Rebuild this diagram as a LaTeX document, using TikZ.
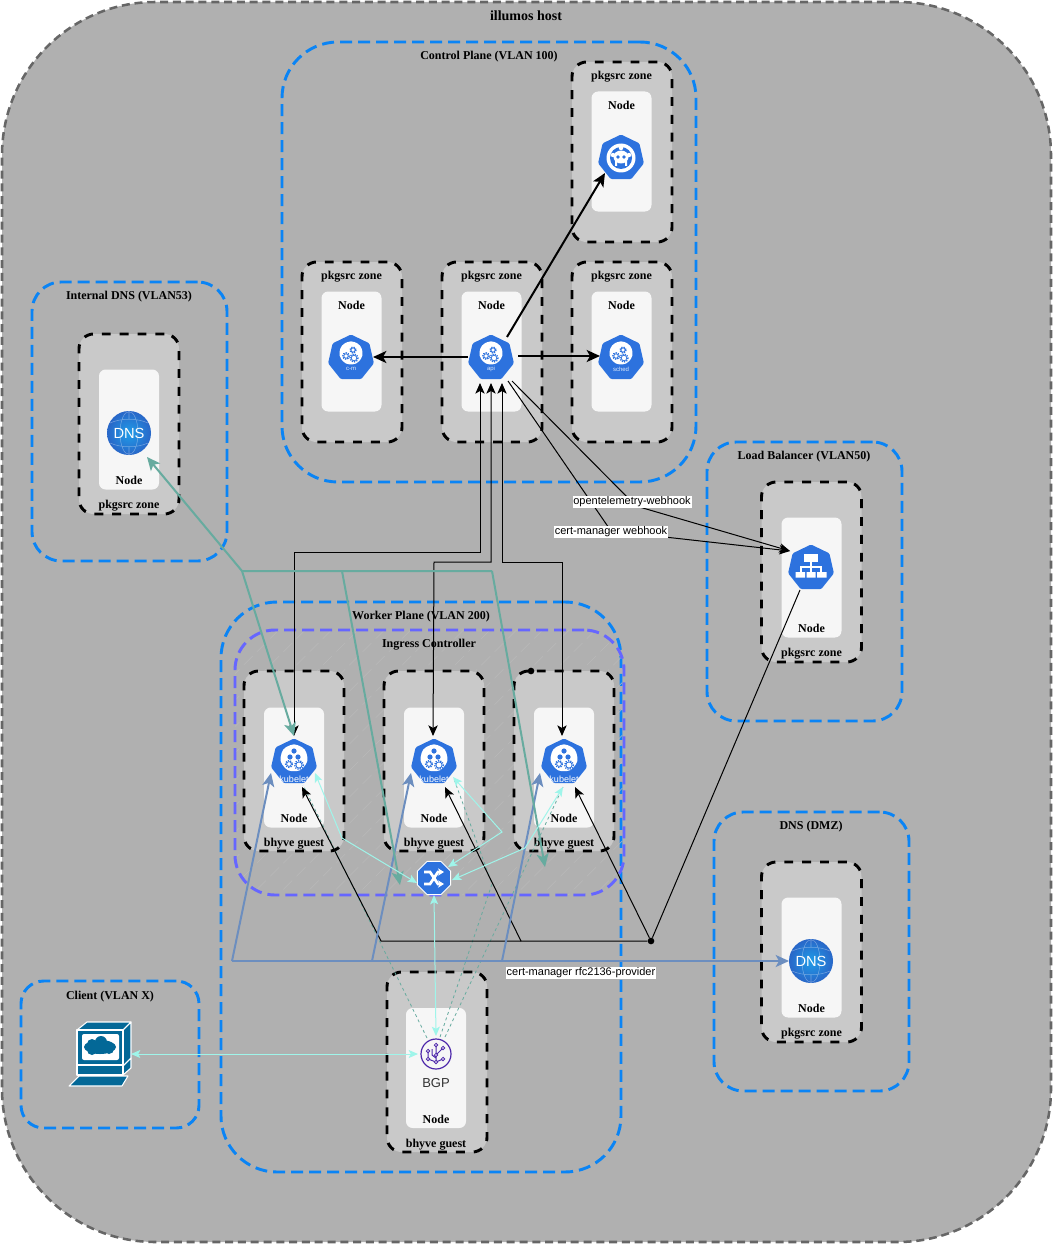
\documentclass[tikz,border=0pt]{standalone}
\usepackage{fontspec}
\setmainfont{Liberation Serif}
\newfontfamily\arialfont{Liberation Sans}
\usetikzlibrary{shapes.geometric,arrows.meta,calc,patterns.meta}

\definecolor{hostgray}{HTML}{B0B0B0}
\definecolor{zonegray}{HTML}{C9C9C9}
\definecolor{boxwhite}{HTML}{F6F6F6}
\definecolor{vlanblue}{HTML}{0A84F5}
\definecolor{ingresspurple}{HTML}{6666FF}
\definecolor{kubeblue}{HTML}{2D72DE}
\definecolor{steel}{HTML}{6C8EBF}
\definecolor{teal}{HTML}{67AB9F}
\definecolor{aqua}{HTML}{9FF5EA}
\definecolor{clientblue}{HTML}{036897}
\definecolor{bgppurple}{HTML}{4D27AA}

\tikzset{barb/.tip={Stealth[length=8pt,width=7pt,inset=2pt]}}
\tikzset{heavybarb/.tip={Stealth[length=10pt,width=9pt,inset=2.5pt]}}
\tikzset{smallbarb/.tip={Stealth[length=7pt,width=6pt,inset=1.6pt]}}

\tikzstyle{host} = [rectangle, draw=black!60, fill=hostgray, line width=1.9pt,
    dash pattern=on 6pt off 3.6pt, rounded corners=115pt, inner sep=0pt]
\tikzstyle{vlan} = [rectangle, draw=vlanblue, line width=2.2pt,
    dash pattern=on 9pt off 4.5pt, inner sep=0pt]
\tikzstyle{ingressbox} = [rectangle, draw=ingresspurple, line width=2.2pt,
    dash pattern=on 9pt off 4.5pt, rounded corners=30pt, inner sep=0pt,
    pattern={Lines[angle=45,distance=14pt,line width=.4pt]}, pattern color=hostgray!88!white]
\tikzstyle{zone} = [rectangle, draw=black, fill=zonegray, line width=2.2pt,
    dash pattern=on 6.7pt off 6.7pt, rounded corners=11pt, inner sep=0pt,
    minimum width=75pt, minimum height=135pt]
\tikzstyle{nodebox} = [rectangle, fill=boxwhite, rounded corners=5pt, inner sep=0pt,
    minimum width=45pt, minimum height=90pt]
\tikzstyle{heading} = [font=\bfseries\fontsize{9}{10}\selectfont, inner sep=0pt]
\tikzstyle{kube} = [regular polygon, regular polygon sides=7, fill=kubeblue,
    minimum size=35.25pt, inner sep=0pt, rounded corners=1pt]
\tikzstyle{dnsball} = [circle, inner color=kubeblue!70!cyan, outer color=kubeblue!90!black,
    minimum size=33pt, inner sep=0pt]
\tikzstyle{tag} = [fill=white, font=\arialfont\fontsize{8.25}{9}\selectfont,
    inner xsep=.6pt, inner ysep=.8pt]
\tikzstyle{dot} = [circle, fill=black, inner sep=0pt, minimum size=5pt]
\tikzstyle{wire} = [draw, black, line width=.75pt, -barb]
\tikzstyle{heavywire} = [draw, black, line width=1.5pt, -heavybarb]
\tikzstyle{steelwire} = [draw, steel, line width=1.5pt, -heavybarb]
\tikzstyle{tealwire} = [draw, teal, line width=1.5pt, -heavybarb]
\tikzstyle{aquawire} = [draw, aqua, line width=.75pt, smallbarb-smallbarb]
\tikzstyle{tealdash} = [draw, teal, line width=.6pt, dash pattern=on 2.2pt off 2.2pt]
\tikzstyle{cogteeth} = [draw=kubeblue, line width=1pt, dash pattern=on .9pt off .9pt]

\newcommand{\drawcog}[3]{%
    \draw[cogteeth] (#1,#2) circle (#3);
    \draw[kubeblue, line width=.6pt, fill=white] (#1,#2) circle (#3*.7);
}

\tikzset{
  controlicon/.pic={
    \node [regular polygon, regular polygon sides=7, fill=white, minimum size=19pt,
        inner sep=0pt, rounded corners=3pt] at (0,-5) {};
    \drawcog{-5}{-2}{3.2}
    \drawcog{2}{-8}{3}
    \drawcog{3}{0}{4}
  },
  kubeleticon/.pic={
    \node [regular polygon, regular polygon sides=7, fill=white, minimum size=22pt,
        inner sep=0pt, rounded corners=3pt] at (0,-4) {};
    \fill[kubeblue] (0,-11) circle (2.6) (-4,-5) circle (2.6) (4,-5) circle (2.6);
    \drawcog{-5}{2}{3.4}
    \drawcog{5}{3}{4.4}
  },
  etcdicon/.pic={
    \fill[white] (0,0) circle (14.5);
    \fill[kubeblue] (0,0) circle (11);
    \fill[white] (-8,-3) circle (2.2) (8,-3) circle (2.2) (0,-10) circle (2.2);
    \fill[white] (0,-1) ellipse (7.5 and 6.5);
    \fill[kubeblue] (-3,-1) circle (1.8) (3,-1) circle (1.8);
    \fill[white] (-6,8) rectangle (-4,3) (4,3) rectangle (6,8);
  },
  treeicon/.pic={
    \draw[white, line width=.8pt] (0,-8) -- (0,6) (-10,6) -- (-10,-1) -- (10,-1) -- (10,6);
    \fill[white] (-7,-14) rectangle (7,-6);
    \fill[white] (-15.5,4) rectangle (-6,9.5) (-4.5,4) rectangle (4.5,9.5) (6,4) rectangle (15.5,9.5);
  },
  shuffleicon/.pic={
    \draw[white, line width=2pt, -{Stealth[length=4.5pt,width=5.5pt]}]
        (-10,-6) -- (-4,-6) -- (4,6) -- (10,6);
    \draw[white, line width=2pt, -{Stealth[length=4.5pt,width=5.5pt]}]
        (-10,6) -- (-4,6) -- (4,-6) -- (10,-6);
  },
  bgpicon/.pic={
    \draw[bgppurple, line width=.9pt] (0,0) circle (15);
    \draw[bgppurple, line width=.75pt] (0,-9) -- (0,8) (-8,-3) -- (-8,5) -- (0,8) -- (7,5)
        (0,1) -- (7,-6) (-4,-5) -- (-4,1) -- (0,4);
    \draw[bgppurple, line width=.6pt, fill=white] (0,-9) circle (1.7) (-8,-3) circle (1.7)
        (7,-6) circle (1.7) (0,8) circle (1.7) (7,5) circle (1.7) (-8,5) circle (1.7) (0,1) circle (1.7);
  },
  globeicon/.pic={
    \draw[white, opacity=.35, line width=.4pt] (0,0) ellipse (9 and 21.5) (0,-21.5) -- (0,-14)
        (0,14) -- (0,21.5) (-19,-10) .. controls (-8,-15) and (8,-15) .. (19,-10)
        (-19,10) .. controls (-8,15) and (8,15) .. (19,10);
  }
}

\begin{document}
\begin{tikzpicture}[x=.75pt, y=-.75pt, node distance=30pt]
        \useasboundingbox (0,0) rectangle (1053,1252);

        % Place containers
        \node [host, minimum width=786.75pt, minimum height=930pt] (illumos) at (526.5,622) {};
        \node [heading, font=\bfseries\fontsize{10.5}{11}\selectfont] (illumostext) at (526,16) {illumos host};

        \node [vlan, rounded corners=42pt, minimum width=310.5pt, minimum height=330pt] (control) at (489,262) {};
        \node [heading] (controltext) at (489,57) {Control Plane (VLAN 100)};
        \node [vlan, rounded corners=22pt, minimum width=146.25pt, minimum height=209.25pt] (internal) at (129.5,421.5) {};
        \node [heading] (internaltext) at (129,297) {Internal DNS (VLAN53)};
        \node [vlan, rounded corners=22pt, minimum width=146.25pt, minimum height=209.25pt] (balancer) at (804.5,581.5) {};
        \node [heading] (balancertext) at (804,457) {Load Balancer (VLAN50)};
        \node [vlan, rounded corners=22pt, minimum width=146.25pt, minimum height=209.25pt] (dmz) at (811.5,951.5) {};
        \node [heading] (dmztext) at (811,827) {DNS (DMZ)};
        \node [vlan, rounded corners=42pt, minimum width=300pt, minimum height=427.5pt] (worker) at (421,887) {};
        \node [heading] (workertext) at (421,617) {Worker Plane (VLAN 200)};
        \node [ingressbox, minimum width=291.75pt, minimum height=198.75pt] (ingressbox) at (429.5,762.5) {};
        \node [heading] (ingresstext) at (429,645) {Ingress Controller};
        \node [vlan, rounded corners=17pt, minimum width=133.5pt, minimum height=110.25pt] (clientzone) at (110,1054.5) {};
        \node [heading] (clienttext) at (110,997) {Client (VLAN X)};

        % Place zones
        \node [zone] (etcdzone) at (622,152) {};
        \node [nodebox] (etcdbox) at (621.5,151.5) {};
        \node [heading, above of=etcdbox, node distance=55.9pt] (etcdtext) {pkgsrc zone};
        \node [heading, above of=etcdbox, node distance=34.6pt] (etcdnode) {Node};

        \node [zone] (cmzone) at (352,352) {};
        \node [nodebox] (cmbox) at (351.5,351.5) {};
        \node [heading, above of=cmbox, node distance=55.9pt] (cmtext) {pkgsrc zone};
        \node [heading, above of=cmbox, node distance=34.6pt] (cmnode) {Node};

        \node [zone] (apizone) at (492,352) {};
        \node [nodebox] (apibox) at (491.5,351.5) {};
        \node [heading, above of=apibox, node distance=55.9pt] (apitext) {pkgsrc zone};
        \node [heading, above of=apibox, node distance=34.6pt] (apinode) {Node};

        \node [zone] (schedzone) at (622,352) {};
        \node [nodebox] (schedbox) at (621.5,351.5) {};
        \node [heading, above of=schedbox, node distance=55.9pt] (schedtext) {pkgsrc zone};
        \node [heading, above of=schedbox, node distance=34.6pt] (schednode) {Node};

        \node [zone] (dnsazone) at (129,424) {};
        \node [nodebox] (dnsabox) at (129,429.5) {};
        \node [heading, below of=dnsabox, node distance=57.4pt] (dnsatext) {pkgsrc zone};
        \node [heading, below of=dnsabox, node distance=38pt] (dnsanode) {Node};

        \node [zone] (lbzone) at (811.5,572) {};
        \node [nodebox] (lbbox) at (811.5,577.5) {};
        \node [heading, below of=lbbox, node distance=57.4pt] (lbtext) {pkgsrc zone};
        \node [heading, below of=lbbox, node distance=38pt] (lbnode) {Node};

        \node [zone] (dnsbzone) at (811.5,952) {};
        \node [nodebox] (dnsbbox) at (811.5,957.5) {};
        \node [heading, below of=dnsbbox, node distance=57.4pt] (dnsbtext) {pkgsrc zone};
        \node [heading, below of=dnsbbox, node distance=38pt] (dnsbnode) {Node};

        \node [zone] (kazone) at (294,761) {};
        \node [nodebox] (kabox) at (294,767.5) {};
        \node [heading, below of=kabox, node distance=57.4pt] (katext) {bhyve guest};
        \node [heading, below of=kabox, node distance=38pt] (kanode) {Node};

        \node [zone] (kbzone) at (434,761) {};
        \node [nodebox] (kbbox) at (434,767.5) {};
        \node [heading, below of=kbbox, node distance=57.4pt] (kbtext) {bhyve guest};
        \node [heading, below of=kbbox, node distance=38pt] (kbnode) {Node};

        \node [zone] (kczone) at (564,761) {};
        \node [nodebox] (kcbox) at (564,767.5) {};
        \node [heading, below of=kcbox, node distance=57.4pt] (kctext) {bhyve guest};
        \node [heading, below of=kcbox, node distance=38pt] (kcnode) {Node};
        \node [dot] (kcdot) at (531,671) {};

        \node [zone] (bgpzone) at (437,1062) {};
        \node [nodebox] (bgpbox) at (436,1068) {};
        \node [heading, below of=bgpbox, node distance=57.4pt] (bgptext) {bhyve guest};
        \node [heading, below of=bgpbox, node distance=38.5pt] (bgpnode) {Node};

        % Place icons
        \node [kube] (etcd) at (621,158) {};
        \pic at (etcd) {etcdicon};
        \node [kube] (cm) at (351,358) {};
        \pic at (cm) {controlicon};
        \node [font=\arialfont\fontsize{4.5}{5}\selectfont, text=white!85!kubeblue, inner sep=0pt] (cmlabel) at (351,369) {c-m};
        \node [kube] (api) at (491,358) {};
        \pic at (api) {controlicon};
        \node [font=\arialfont\fontsize{4.5}{5}\selectfont, text=white!85!kubeblue, inner sep=0pt] (apilabel) at (491,369) {api};
        \node [kube] (sched) at (621,358) {};
        \pic at (sched) {controlicon};
        \node [font=\arialfont\fontsize{4.5}{5}\selectfont, text=white!85!kubeblue, inner sep=0pt] (schedlabel) at (621,369) {sched};

        \node [kube] (ka) at (294,762) {};
        \pic at (ka) {kubeleticon};
        \node [kube] (kb) at (434,762) {};
        \pic at (kb) {kubeleticon};
        \node [kube] (kc) at (564,762) {};
        \pic at (kc) {kubeleticon};
        \node [font=\arialfont\fontsize{6.75}{7}\selectfont, text=white, inner sep=0pt] (kalabel) at (294,779) {kubelet};
        \node [font=\arialfont\fontsize{6.75}{7}\selectfont, text=white, inner sep=0pt] (kblabel) at (434,779) {kubelet};
        \node [font=\arialfont\fontsize{6.75}{7}\selectfont, text=white, inner sep=0pt] (kclabel) at (564,779) {kubelet};

        \node [kube] (lb) at (811,568) {};
        \pic at (lb) {treeicon};

        \node [dnsball, font=\arialfont\fontsize{11}{12}\selectfont, text=white] (dnsa) at (129,433) {DNS};
        \pic at (dnsa) {globeicon};
        \node [dnsball, font=\arialfont\fontsize{11}{12}\selectfont, text=white] (dnsb) at (811,961) {DNS};
        \pic at (dnsb) {globeicon};

        \node [regular polygon, regular polygon sides=8, fill=kubeblue, draw=white, line width=.6pt,
            minimum size=27pt, inner sep=0pt] (ingress) at (434,878) {};
        \pic at (ingress) {shuffleicon};

        \node [circle, minimum size=22.5pt, inner sep=0pt] (bgp) at (436,1054) {};
        \pic at (bgp) {bgpicon};
        \node [font=\arialfont\fontsize{9.75}{10}\selectfont, text=black!80, inner sep=0pt] (bgplabel) at (436,1083) {BGP};

        % Client terminal
        \node [minimum width=45pt, minimum height=48pt, inner sep=0pt] (client) at (100,1054) {};
        \begin{scope}[draw=white, fill=clientblue, line width=.8pt, line join=round]
            \filldraw (77,1030) -- (87,1022) -- (131,1022) -- (123,1030) -- cycle;
            \filldraw (123,1030) -- (131,1022) -- (131,1058) -- (123,1066) -- cycle;
            \filldraw (123,1066) -- (131,1058) -- (131,1068) -- (123,1075) -- cycle;
            \filldraw (77,1030) rectangle (123,1065);
            \filldraw (77,1065) rectangle (123,1075);
            \filldraw (69,1086) -- (79,1076) -- (128,1076) -- (122,1086) -- cycle;
        \end{scope}
        \fill [white, rounded corners=1.5pt] (82,1034) rectangle (119,1060);
        \fill [clientblue] (100,1047) ellipse (16 and 7) (92,1044) circle (5) (101,1042) circle (6) (109,1049) circle (5) (92,1050) circle (5);

        % Junction points
        \coordinate (tealhub) at (242,571);
        \coordinate (tealmid) at (342,571);
        \coordinate (tealend) at (492,571);
        \coordinate (steelhub) at (232,961);
        \coordinate (steelmid) at (372,961);
        \coordinate (steelend) at (502,961);
        \coordinate (blackmid) at (521,941);
        \coordinate (blackend) at (381,941);
        \coordinate (otelbend) at (636,506);
        \coordinate (certbend) at (611,531);
        \coordinate (kaleft) at (294,552);
        \coordinate (kbleft) at (434,562);
        \coordinate (kcleft) at (562,562);
        \coordinate (aquaa) at (342,838);
        \coordinate (aquab) at (502,832);
        \coordinate (aquac) at (525,848);
        \coordinate (dashbend) at (492,884);

        % Draw edges
        \path [tealdash] ($(bgp)+(-9,-16)$) -- ($(ka)+(9,23)$);
        \path [tealdash] ($(bgp)+(4,-17)$) -- (dashbend) -- ($(kb)+(20,17)$);
        \path [tealdash] ($(bgp)+(9,-17)$) -- ($(kc)+(-1,25)$);

        \path [heavywire] ($(api)+(-23,-1)$) -- ($(cm)+(22,-1)$);
        \path [heavywire] ($(api)+(27,-2)$) -- ($(sched)+(-21,-2)$);
        \path [heavywire] ($(api)+(16,-21)$) -- ($(etcd)+(-16,15)$);

        \path [wire, barb-barb] ($(ka)+(0,-26)$) -- (kaleft) -- (480,552) -- ($(api)+(-11,25)$);
        \path [wire, barb-barb] ($(kb)+(-1,-26)$) -- (kbleft) -- (491,562) -- ($(api)+(0,25)$);
        \path [wire, barb-barb] ($(kc)+(-2,-26)$) -- (kcleft) -- (502,562) -- ($(api)+(11,25)$);

        \path [wire] ($(api)+(21,23)$) -- (otelbend) -- ($(lb)+(-21,-17)$);
        \path [wire] ($(api)+(17,23)$) -- (certbend) -- ($(lb)+(-21,-17)$);

        \node [dot] (junction) at (651,941) {};
        \path [draw, black, line width=.75pt] ($(lb)+(-11,22)$) -- (junction);
        \path [wire] (junction) -- ($(kc)+(11,25)$);
        \path [wire] (junction) -- (blackmid) -- ($(kb)+(11,25)$);
        \path [wire] (blackmid) -- (blackend) -- ($(ka)+(8,25)$);

        \path [steelwire] (steelhub) -- ($(dnsb)+(-22,0)$);
        \path [steelwire] (steelhub) -- ($(ka)+(-23,11)$);
        \path [steelwire] (steelmid) -- ($(kb)+(-23,11)$);
        \path [steelwire] (steelend) -- ($(kc)+(-24,11)$);

        \path [tealwire] (tealend) -- (tealhub) -- ($(dnsa)+(18,24)$);
        \path [tealwire] (tealhub) -- ($(ka)+(0,-26)$);
        \path [tealwire] (tealmid) -- ($(ingress)+(-34,7)$);
        \path [tealwire] (tealend) -- ($(ingress)+(111,-11)$);

        \path [aquawire] ($(ka)+(21,11)$) -- (aquaa) -- ($(ingress)+(-17,5)$);
        \path [aquawire] ($(kb)+(19,15)$) -- (aquab) -- ($(ingress)+(14,-11)$);
        \path [aquawire] ($(kc)+(-1,25)$) -- (aquac) -- ($(ingress)+(18,2)$);
        \path [aquawire] ($(ingress)+(0,17)$) -- ($(bgp)+(0,-18)$);
        \path [aquawire] ($(client)+(31,0)$) -- ($(bgp)+(-18,0)$);

        % Edge labels
        \node [tag] (oteltag) at (632,502) {opentelemetry-webhook};
        \node [tag] (certtag) at (611,532) {cert-manager webhook};
        \node [tag] (rfctag) at (581,973) {cert-manager rfc2136-provider};

\end{tikzpicture}
\end{document}
